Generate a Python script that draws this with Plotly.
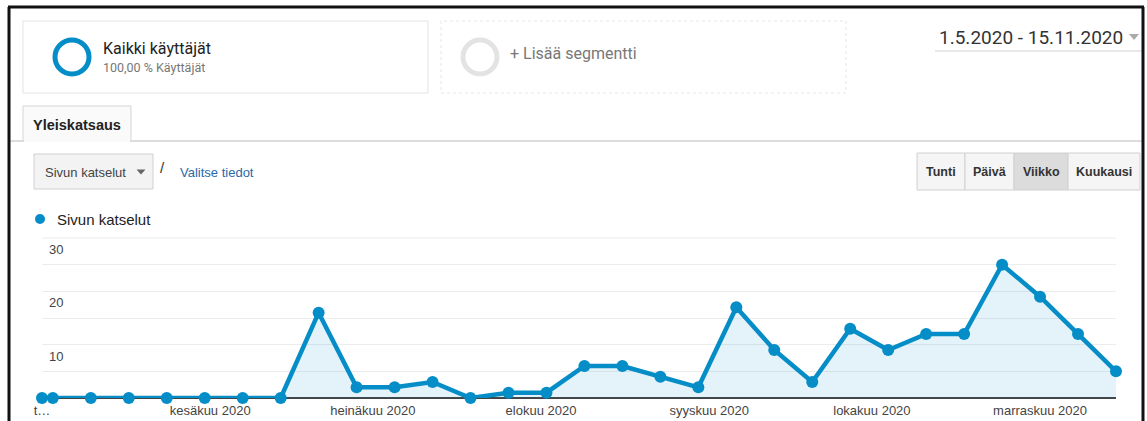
import plotly.graph_objects as go

# ---- data ----
week_dates = ["2020-05-01", "2020-05-03", "2020-05-10", "2020-05-17", "2020-05-24", "2020-05-31",
              "2020-06-07", "2020-06-14", "2020-06-21", "2020-06-28", "2020-07-05", "2020-07-12",
              "2020-07-19", "2020-07-26", "2020-08-02", "2020-08-09", "2020-08-16", "2020-08-23",
              "2020-08-30", "2020-09-06", "2020-09-13", "2020-09-20", "2020-09-27", "2020-10-04",
              "2020-10-11", "2020-10-18", "2020-10-25", "2020-11-01", "2020-11-08", "2020-11-15"]
page_views = [0, 0, 0, 0, 0, 0, 0, 0, 16, 2, 2, 3, 0, 1, 1, 6, 6, 4, 2, 17, 9, 3, 13, 9, 12, 12, 25, 19, 12, 5]
month_ticks = ["2020-05-01", "2020-06-01", "2020-07-01", "2020-08-01", "2020-09-01", "2020-10-01", "2020-11-01"]
month_labels = ["t…", "kesäkuu 2020", "heinäkuu 2020", "elokuu 2020", "syyskuu 2020", "lokakuu 2020", "marraskuu 2020"]
y_labels = [10, 20, 30]

W, H = 1147, 421
L, R, T, B = 42, 1116, 238, 398  # plot area in pixels

def px(x):
    return (x - L) / (R - L)

def py(y):
    return (B - y) / (B - T)

BLUE = "#058dc7"
fig = go.Figure()
fig.add_trace(go.Scatter(
    x=week_dates, y=page_views, mode="lines+markers",
    line=dict(color=BLUE, width=4.5), marker=dict(color=BLUE, size=12),
    fill="tozeroy", fillcolor="rgba(5,141,199,0.11)", cliponaxis=False,
    showlegend=False, hoverinfo="x+y"))

shapes = []
annotations = []

def rect(x0, y0, x1, y1, line="#e0e0e0", fill="white", width=1, dash="solid"):
    shapes.append(dict(type="rect", xref="paper", yref="paper", x0=px(x0), x1=px(x1),
                       y0=py(y1), y1=py(y0), line=dict(color=line, width=width, dash=dash),
                       fillcolor=fill, layer="below"))

def hline(x0, x1, y, color, width=1, layer="above"):
    shapes.append(dict(type="line", xref="paper", yref="paper", x0=px(x0), x1=px(x1),
                       y0=py(y), y1=py(y), line=dict(color=color, width=width), layer=layer))

def vline(x, y0, y1, color, width=1):
    shapes.append(dict(type="line", xref="paper", yref="paper", x0=px(x), x1=px(x),
                       y0=py(y0), y1=py(y1), line=dict(color=color, width=width)))

def circle(cx, cy, r, color, width, fill="rgba(0,0,0,0)"):
    shapes.append(dict(type="circle", xref="paper", yref="paper", x0=px(cx - r), x1=px(cx + r),
                       y0=py(cy + r), y1=py(cy - r), line=dict(color=color, width=width), fillcolor=fill))

def text(x, y, s, size, color="#222", xanchor="left", family="Roboto, Arial", bold=False):
    if bold:
        s = "<b>" + s + "</b>"
    annotations.append(dict(xref="paper", yref="paper", x=px(x), y=py(y), text=s, showarrow=False,
                            xanchor=xanchor, yanchor="middle", font=dict(size=size, color=color, family=family)))

def tri(cx, cy, w, h, color):
    shapes.append(dict(type="path", xref="paper", yref="paper",
                       path="M {} {} L {} {} L {} {} Z".format(px(cx - w / 2), py(cy - h / 2), px(cx + w / 2), py(cy - h / 2), px(cx), py(cy + h / 2)),
                       line=dict(width=0), fillcolor=color))

# segment boxes
rect(23, 21, 428, 93, line="#e3e3e3")
circle(72, 57, 17, BLUE, 5)
text(101, 48, "Kaikki käyttäjät", 16, "#222")
text(101, 67, "100,00 % Käyttäjät", 12.5, "#777")

rect(441, 21, 846, 93, line="#e6e6e6", dash="dot")
circle(480, 57, 17, "#e3e3e3", 5)
text(508, 53, "+ Lisää segmentti", 16, "#777")

# date range
text(937, 37, "1.5.2020 - 15.11.2020", 19, "#333")
tri(1134, 37, 10, 6, "#aaa")
hline(935, 1143, 51, "#e8e8e8", 2)

# tab
hline(9, 1143, 141, "#dcdcdc", 2)
rect(23, 106, 131, 141, line="#d5d5d5", fill="#fafafa")
hline(24, 130, 141, "#fafafa", 2)
text(77, 125, "Yleiskatsaus", 14.5, "#222", xanchor="center", family="Arial", bold=True)

# metric selector
rect(34, 154, 153, 189, line="#d0d0d0", fill="#f3f3f3")
text(43, 172, "Sivun katselut", 13, "#444", family="Arial")
tri(141, 172, 9, 5, "#666")
text(158, 167, "/", 15, "#333", family="Arial")
text(178, 172, "Valitse tiedot", 13, "#2a68a8", family="Arial")

# time buttons
btns = [("Tunti", 917, 965, "#f5f5f5"), ("Päivä", 965, 1014, "#f5f5f5"),
        ("Viikko", 1014, 1068, "#dcdcdc"), ("Kuukausi", 1068, 1140, "#f5f5f5")]
for label, a, b, bg in btns:
    rect(a, 153, b, 190, line="#d0d0d0", fill=bg)
    text((a + b) / 2, 172, label, 12.5, "#333", xanchor="center", family="Arial", bold=True)

# legend
circle(40, 219, 5, BLUE, 0, fill=BLUE)
text(55, 219, "Sivun katselut", 15, "#222", family="Arial")

# top gridline of the chart (value 30 sits on the plot edge)
hline(L, R, T, "#ececec", 1, layer="below")

# y labels inside plot
for v in y_labels:
    annotations.append(dict(xref="paper", yref="y", x=px(47), y=v, text=str(v), showarrow=False,
                            xanchor="left", yanchor="top", yshift=-2,
                            font=dict(size=13, color="#444", family="Arial")))

# outer black frame
vline(9, 7, 421, "#111", 3)
hline(8, 1144, 7, "#111", 3)
vline(1143, 7, 421, "#111", 3)

fig.update_layout(
    width=W, height=H,
    margin=dict(l=L, r=W - R, t=T, b=H - B, pad=0, autoexpand=False),
    paper_bgcolor="white", plot_bgcolor="white",
    shapes=shapes, annotations=annotations,
    xaxis=dict(type="date", range=["2020-05-01", "2020-11-15"], tickvals=month_ticks, ticktext=month_labels,
               showgrid=False, zeroline=False, showline=False, ticks="", automargin=False,
               ticklabelstandoff=3,
               tickfont=dict(size=13, color="#444", family="Arial")),
    yaxis=dict(range=[0, 30], dtick=5, showticklabels=False, gridcolor="#ececec", gridwidth=1,
               zeroline=True, zerolinecolor="#444", zerolinewidth=1.5, showline=False, fixedrange=True,
               automargin=False),
    hovermode="closest",
)

fig.write_html("out.html")
